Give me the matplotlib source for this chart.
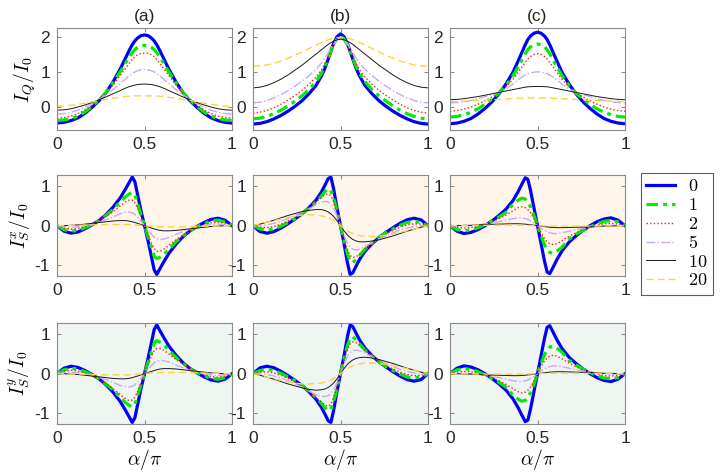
import matplotlib
matplotlib.use("Agg")
import matplotlib.pyplot as plt

plt.rcParams['mathtext.fontset'] = 'cm'
plt.rcParams['font.family'] = ['Liberation Sans', 'DejaVu Sans']

# alpha / pi sample points
alpha = [0, 0.04, 0.08, 0.12, 0.16, 0.2, 0.24, 0.28, 0.32, 0.36, 0.39, 0.41, 0.43, 0.445, 0.46, 0.48, 0.5,
         0.52, 0.54, 0.555, 0.57, 0.59, 0.61, 0.64, 0.68, 0.72, 0.76, 0.8, 0.84, 0.88, 0.92, 0.96, 1]

labels = ['0', '1', '2', '5', '10', '20']
titles = ['(a)', '(b)', '(c)']

# I_Q / I_0, columns a, b, c ; rows = curves 0, 1, 2, 5, 10, 20
iq_a = [
    [-0.46, -0.44, -0.39, -0.31, -0.18, -0.01, 0.18, 0.41, 0.72, 1.08, 1.39, 1.6, 1.79, 1.9, 1.98, 2.05, 2.07, 2.05, 1.98, 1.9, 1.79, 1.6, 1.39, 1.08, 0.72, 0.41, 0.18, -0.01, -0.18, -0.31, -0.39, -0.44, -0.46],
    [-0.39, -0.37, -0.33, -0.26, -0.14, 0.02, 0.2, 0.42, 0.7, 1.0, 1.25, 1.42, 1.56, 1.65, 1.71, 1.76, 1.77, 1.76, 1.71, 1.65, 1.56, 1.42, 1.25, 1.0, 0.7, 0.42, 0.2, 0.02, -0.14, -0.26, -0.33, -0.37, -0.39],
    [-0.32, -0.3, -0.26, -0.19, -0.08, 0.05, 0.21, 0.4, 0.63, 0.9, 1.1, 1.24, 1.37, 1.45, 1.5, 1.54, 1.55, 1.54, 1.5, 1.45, 1.37, 1.24, 1.1, 0.9, 0.63, 0.4, 0.21, 0.05, -0.08, -0.19, -0.26, -0.3, -0.32],
    [-0.2, -0.19, -0.15, -0.09, 0.0, 0.1, 0.22, 0.35, 0.5, 0.67, 0.8, 0.89, 0.96, 1.01, 1.04, 1.07, 1.08, 1.07, 1.04, 1.01, 0.96, 0.89, 0.8, 0.67, 0.5, 0.35, 0.22, 0.1, 0.0, -0.09, -0.15, -0.19, -0.2],
    [-0.09, -0.08, -0.05, 0.0, 0.06, 0.13, 0.21, 0.29, 0.38, 0.47, 0.54, 0.58, 0.61, 0.63, 0.645, 0.655, 0.66, 0.655, 0.645, 0.63, 0.61, 0.58, 0.54, 0.47, 0.38, 0.29, 0.21, 0.13, 0.06, 0.0, -0.05, -0.08, -0.09],
    [0.02, 0.03, 0.05, 0.08, 0.11, 0.15, 0.19, 0.22, 0.25, 0.28, 0.3, 0.31, 0.315, 0.32, 0.32, 0.32, 0.32, 0.32, 0.32, 0.32, 0.315, 0.31, 0.3, 0.28, 0.25, 0.22, 0.19, 0.15, 0.11, 0.08, 0.05, 0.03, 0.02],
]
iq_b = [
    [-0.49, -0.47, -0.42, -0.34, -0.24, -0.12, 0.02, 0.18, 0.38, 0.62, 0.88, 1.1, 1.38, 1.6, 1.82, 2.02, 2.1, 2.02, 1.82, 1.6, 1.38, 1.1, 0.88, 0.62, 0.38, 0.18, 0.02, -0.12, -0.24, -0.34, -0.42, -0.47, -0.49],
    [-0.34, -0.32, -0.27, -0.19, -0.09, 0.03, 0.17, 0.32, 0.5, 0.73, 0.96, 1.16, 1.4, 1.6, 1.79, 1.96, 2.02, 1.96, 1.79, 1.6, 1.4, 1.16, 0.96, 0.73, 0.5, 0.32, 0.17, 0.03, -0.09, -0.19, -0.27, -0.32, -0.34],
    [-0.17, -0.15, -0.1, -0.02, 0.08, 0.2, 0.33, 0.48, 0.65, 0.86, 1.06, 1.24, 1.45, 1.62, 1.78, 1.92, 1.98, 1.92, 1.78, 1.62, 1.45, 1.24, 1.06, 0.86, 0.65, 0.48, 0.33, 0.2, 0.08, -0.02, -0.1, -0.15, -0.17],
    [0.12, 0.14, 0.19, 0.26, 0.36, 0.47, 0.6, 0.74, 0.9, 1.08, 1.26, 1.4, 1.56, 1.69, 1.8, 1.92, 1.97, 1.92, 1.8, 1.69, 1.56, 1.4, 1.26, 1.08, 0.9, 0.74, 0.6, 0.47, 0.36, 0.26, 0.19, 0.14, 0.12],
    [0.55, 0.57, 0.62, 0.7, 0.8, 0.92, 1.06, 1.2, 1.36, 1.52, 1.64, 1.72, 1.8, 1.85, 1.89, 1.93, 1.95, 1.93, 1.89, 1.85, 1.8, 1.72, 1.64, 1.52, 1.36, 1.2, 1.06, 0.92, 0.8, 0.7, 0.62, 0.57, 0.55],
    [1.17, 1.18, 1.21, 1.26, 1.32, 1.4, 1.49, 1.58, 1.68, 1.78, 1.85, 1.89, 1.93, 1.96, 1.98, 1.99, 2.0, 1.99, 1.98, 1.96, 1.93, 1.89, 1.85, 1.78, 1.68, 1.58, 1.49, 1.4, 1.32, 1.26, 1.21, 1.18, 1.17],
]
iq_c = [
    [-0.48, -0.46, -0.41, -0.33, -0.2, -0.04, 0.15, 0.38, 0.66, 1.0, 1.33, 1.56, 1.79, 1.94, 2.04, 2.12, 2.15, 2.12, 2.04, 1.94, 1.79, 1.56, 1.33, 1.0, 0.66, 0.38, 0.15, -0.04, -0.2, -0.33, -0.41, -0.46, -0.48],
    [-0.29, -0.27, -0.22, -0.15, -0.05, 0.08, 0.23, 0.4, 0.62, 0.9, 1.16, 1.35, 1.53, 1.65, 1.73, 1.79, 1.81, 1.79, 1.73, 1.65, 1.53, 1.35, 1.16, 0.9, 0.62, 0.4, 0.23, 0.08, -0.05, -0.15, -0.22, -0.27, -0.29],
    [-0.12, -0.1, -0.06, 0.0, 0.08, 0.18, 0.29, 0.41, 0.58, 0.8, 1.0, 1.14, 1.28, 1.38, 1.45, 1.51, 1.53, 1.51, 1.45, 1.38, 1.28, 1.14, 1.0, 0.8, 0.58, 0.41, 0.29, 0.18, 0.08, 0.0, -0.06, -0.1, -0.12],
    [0.12, 0.13, 0.15, 0.19, 0.24, 0.3, 0.36, 0.42, 0.52, 0.66, 0.78, 0.86, 0.92, 0.96, 0.98, 1.0, 1.01, 1.0, 0.98, 0.96, 0.92, 0.86, 0.78, 0.66, 0.52, 0.42, 0.36, 0.3, 0.24, 0.19, 0.15, 0.13, 0.12],
    [0.21, 0.22, 0.24, 0.27, 0.3, 0.34, 0.38, 0.42, 0.46, 0.5, 0.53, 0.55, 0.57, 0.58, 0.585, 0.59, 0.59, 0.59, 0.585, 0.58, 0.57, 0.55, 0.53, 0.5, 0.46, 0.42, 0.38, 0.34, 0.3, 0.27, 0.24, 0.22, 0.21],
    [0.16, 0.16, 0.17, 0.18, 0.19, 0.2, 0.21, 0.22, 0.23, 0.24, 0.25, 0.25, 0.255, 0.26, 0.26, 0.26, 0.26, 0.26, 0.26, 0.26, 0.255, 0.25, 0.25, 0.24, 0.23, 0.22, 0.21, 0.2, 0.19, 0.18, 0.17, 0.16, 0.16],
]

# I_S^x / I_0
isx_a = [
    [0, -0.14, -0.19, -0.16, -0.08, 0.02, 0.13, 0.28, 0.47, 0.7, 0.92, 1.08, 1.24, 1.12, 0.8, 0.38, 0, -0.38, -0.8, -1.12, -1.24, -1.08, -0.92, -0.7, -0.47, -0.28, -0.13, -0.02, 0.08, 0.16, 0.19, 0.14, 0],
    [0, -0.1, -0.14, -0.12, -0.05, 0.03, 0.13, 0.26, 0.41, 0.6, 0.73, 0.8, 0.84, 0.78, 0.56, 0.28, 0, -0.28, -0.56, -0.78, -0.84, -0.8, -0.73, -0.6, -0.41, -0.26, -0.13, -0.03, 0.05, 0.12, 0.14, 0.1, 0],
    [0, -0.06, -0.09, -0.07, -0.02, 0.05, 0.14, 0.24, 0.36, 0.5, 0.6, 0.65, 0.65, 0.58, 0.45, 0.24, 0, -0.24, -0.45, -0.58, -0.65, -0.65, -0.6, -0.5, -0.36, -0.24, -0.14, -0.05, 0.02, 0.07, 0.09, 0.06, 0],
    [0, -0.03, -0.04, -0.03, 0.0, 0.04, 0.09, 0.15, 0.22, 0.3, 0.34, 0.35, 0.33, 0.29, 0.22, 0.12, 0, -0.12, -0.22, -0.29, -0.33, -0.35, -0.34, -0.3, -0.22, -0.15, -0.09, -0.04, 0.0, 0.03, 0.04, 0.03, 0],
    [0, 0.0, 0.01, 0.02, 0.04, 0.06, 0.08, 0.1, 0.12, 0.13, 0.13, 0.12, 0.1, 0.08, 0.06, 0.03, 0, -0.03, -0.06, -0.08, -0.1, -0.12, -0.13, -0.13, -0.12, -0.1, -0.08, -0.06, -0.04, -0.02, -0.01, 0.0, 0],
    [0, 0.0, 0.01, 0.01, 0.015, 0.02, 0.025, 0.03, 0.03, 0.03, 0.03, 0.03, 0.025, 0.02, 0.015, 0.01, 0, -0.01, -0.015, -0.02, -0.025, -0.03, -0.03, -0.03, -0.03, -0.03, -0.025, -0.02, -0.015, -0.01, -0.01, 0.0, 0],
]
isx_b = [
    [0, -0.15, -0.19, -0.15, -0.06, 0.05, 0.17, 0.3, 0.46, 0.65, 0.85, 1.02, 1.2, 1.24, 0.95, 0.45, 0, -0.45, -0.95, -1.24, -1.2, -1.02, -0.85, -0.65, -0.46, -0.3, -0.17, -0.05, 0.06, 0.15, 0.19, 0.15, 0],
    [0, -0.08, -0.11, -0.08, -0.01, 0.08, 0.18, 0.3, 0.44, 0.6, 0.75, 0.86, 0.94, 0.9, 0.72, 0.38, 0, -0.38, -0.72, -0.9, -0.94, -0.86, -0.75, -0.6, -0.44, -0.3, -0.18, -0.08, 0.01, 0.08, 0.11, 0.08, 0],
    [0, -0.04, -0.05, -0.02, 0.04, 0.12, 0.21, 0.32, 0.45, 0.6, 0.72, 0.79, 0.81, 0.76, 0.62, 0.34, 0, -0.34, -0.62, -0.76, -0.81, -0.79, -0.72, -0.6, -0.45, -0.32, -0.21, -0.12, -0.04, 0.02, 0.05, 0.04, 0],
    [0, 0.0, 0.02, 0.06, 0.11, 0.18, 0.26, 0.34, 0.43, 0.53, 0.6, 0.62, 0.6, 0.54, 0.44, 0.25, 0, -0.25, -0.44, -0.54, -0.6, -0.62, -0.6, -0.53, -0.43, -0.34, -0.26, -0.18, -0.11, -0.06, -0.02, 0.0, 0],
    [0, 0.04, 0.09, 0.14, 0.2, 0.26, 0.31, 0.36, 0.39, 0.41, 0.41, 0.39, 0.35, 0.3, 0.24, 0.13, 0, -0.13, -0.24, -0.3, -0.35, -0.39, -0.41, -0.41, -0.39, -0.36, -0.31, -0.26, -0.2, -0.14, -0.09, -0.04, 0],
    [0, 0.05, 0.09, 0.13, 0.17, 0.21, 0.24, 0.27, 0.28, 0.27, 0.25, 0.23, 0.2, 0.17, 0.13, 0.07, 0, -0.07, -0.13, -0.17, -0.2, -0.23, -0.25, -0.27, -0.28, -0.27, -0.24, -0.21, -0.17, -0.13, -0.09, -0.05, 0],
]
isx_c = [
    [0, -0.14, -0.2, -0.17, -0.1, 0.0, 0.12, 0.26, 0.42, 0.64, 0.87, 1.05, 1.22, 1.18, 0.9, 0.45, 0, -0.45, -0.9, -1.18, -1.22, -1.05, -0.87, -0.64, -0.42, -0.26, -0.12, 0.0, 0.1, 0.17, 0.2, 0.14, 0],
    [0, -0.1, -0.13, -0.11, -0.05, 0.03, 0.12, 0.22, 0.34, 0.55, 0.65, 0.7, 0.68, 0.6, 0.48, 0.26, 0, -0.26, -0.48, -0.6, -0.68, -0.7, -0.65, -0.55, -0.34, -0.22, -0.12, -0.03, 0.05, 0.11, 0.13, 0.1, 0],
    [0, -0.04, -0.06, -0.05, -0.01, 0.04, 0.1, 0.18, 0.27, 0.38, 0.46, 0.48, 0.46, 0.41, 0.33, 0.18, 0, -0.18, -0.33, -0.41, -0.46, -0.48, -0.46, -0.38, -0.27, -0.18, -0.1, -0.04, 0.01, 0.05, 0.06, 0.04, 0],
    [0, -0.01, -0.01, 0.0, 0.02, 0.04, 0.07, 0.1, 0.14, 0.18, 0.2, 0.2, 0.18, 0.16, 0.12, 0.07, 0, -0.07, -0.12, -0.16, -0.18, -0.2, -0.2, -0.18, -0.14, -0.1, -0.07, -0.04, -0.02, 0.0, 0.01, 0.01, 0],
    [0, 0.0, 0.01, 0.01, 0.02, 0.03, 0.035, 0.04, 0.045, 0.05, 0.05, 0.045, 0.04, 0.03, 0.025, 0.012, 0, -0.012, -0.025, -0.03, -0.04, -0.045, -0.05, -0.05, -0.045, -0.04, -0.035, -0.03, -0.02, -0.01, -0.01, 0.0, 0],
    [0, 0.0, 0.005, 0.005, 0.01, 0.01, 0.01, 0.012, 0.012, 0.012, 0.012, 0.01, 0.01, 0.008, 0.006, 0.003, 0, -0.003, -0.006, -0.008, -0.01, -0.01, -0.012, -0.012, -0.012, -0.012, -0.01, -0.01, -0.01, -0.005, -0.005, 0.0, 0],
]

# I_S^y / I_0
isy_a = [
    [0, 0.14, 0.19, 0.16, 0.08, -0.02, -0.13, -0.28, -0.47, -0.7, -0.92, -1.08, -1.24, -1.12, -0.8, -0.38, 0, 0.38, 0.8, 1.12, 1.24, 1.08, 0.92, 0.7, 0.47, 0.28, 0.13, 0.02, -0.08, -0.16, -0.19, -0.14, 0],
    [0, 0.1, 0.14, 0.12, 0.05, -0.03, -0.13, -0.26, -0.41, -0.6, -0.73, -0.8, -0.84, -0.78, -0.56, -0.28, 0, 0.28, 0.56, 0.78, 0.84, 0.8, 0.73, 0.6, 0.41, 0.26, 0.13, 0.03, -0.05, -0.12, -0.14, -0.1, 0],
    [0, 0.06, 0.09, 0.07, 0.02, -0.05, -0.14, -0.25, -0.38, -0.53, -0.63, -0.68, -0.67, -0.6, -0.46, -0.25, 0, 0.24, 0.45, 0.58, 0.64, 0.64, 0.6, 0.5, 0.36, 0.24, 0.14, 0.05, -0.02, -0.07, -0.09, -0.06, 0],
    [0, 0.03, 0.04, 0.03, 0.0, -0.04, -0.09, -0.15, -0.22, -0.3, -0.33, -0.34, -0.32, -0.28, -0.21, -0.12, 0, 0.12, 0.21, 0.28, 0.32, 0.34, 0.33, 0.3, 0.22, 0.15, 0.09, 0.04, 0.0, -0.03, -0.04, -0.03, 0],
    [0, 0.0, -0.01, -0.02, -0.04, -0.06, -0.08, -0.1, -0.12, -0.13, -0.13, -0.12, -0.1, -0.08, -0.06, -0.03, 0, 0.03, 0.06, 0.08, 0.1, 0.12, 0.13, 0.13, 0.12, 0.1, 0.08, 0.06, 0.04, 0.02, 0.01, 0.0, 0],
    [0, 0.0, -0.01, -0.01, -0.015, -0.02, -0.025, -0.03, -0.03, -0.03, -0.03, -0.03, -0.025, -0.02, -0.015, -0.01, 0, 0.01, 0.015, 0.02, 0.025, 0.03, 0.03, 0.03, 0.03, 0.03, 0.025, 0.02, 0.015, 0.01, 0.01, 0.0, 0],
]
isy_b = [
    [0, 0.15, 0.19, 0.15, 0.06, -0.05, -0.17, -0.3, -0.46, -0.65, -0.85, -1.02, -1.2, -1.24, -0.95, -0.45, 0, 0.45, 0.95, 1.24, 1.2, 1.02, 0.85, 0.65, 0.46, 0.3, 0.17, 0.05, -0.06, -0.15, -0.19, -0.15, 0],
    [0, 0.08, 0.11, 0.08, 0.01, -0.08, -0.18, -0.3, -0.44, -0.6, -0.75, -0.86, -0.94, -0.9, -0.72, -0.38, 0, 0.38, 0.72, 0.9, 0.94, 0.86, 0.75, 0.6, 0.44, 0.3, 0.18, 0.08, -0.01, -0.08, -0.11, -0.08, 0],
    [0, 0.04, 0.05, 0.02, -0.04, -0.12, -0.21, -0.32, -0.45, -0.6, -0.72, -0.8, -0.83, -0.77, -0.62, -0.34, 0, 0.34, 0.62, 0.76, 0.81, 0.79, 0.72, 0.6, 0.45, 0.32, 0.21, 0.12, 0.04, -0.02, -0.05, -0.04, 0],
    [0, 0.0, -0.02, -0.06, -0.11, -0.18, -0.26, -0.34, -0.44, -0.54, -0.58, -0.58, -0.56, -0.51, -0.42, -0.24, 0, 0.25, 0.44, 0.54, 0.59, 0.6, 0.58, 0.52, 0.43, 0.34, 0.26, 0.18, 0.11, 0.06, 0.02, 0.0, 0],
    [0, -0.04, -0.09, -0.14, -0.2, -0.26, -0.31, -0.36, -0.4, -0.42, -0.41, -0.39, -0.35, -0.3, -0.24, -0.13, 0, 0.13, 0.24, 0.3, 0.35, 0.39, 0.41, 0.42, 0.4, 0.36, 0.31, 0.26, 0.2, 0.14, 0.09, 0.04, 0],
    [0, -0.05, -0.09, -0.13, -0.17, -0.21, -0.24, -0.26, -0.26, -0.25, -0.24, -0.22, -0.19, -0.16, -0.12, -0.07, 0, 0.07, 0.13, 0.17, 0.2, 0.23, 0.25, 0.27, 0.27, 0.26, 0.24, 0.21, 0.17, 0.13, 0.09, 0.05, 0],
]
isy_c = [
    [0, 0.14, 0.2, 0.17, 0.1, 0.0, -0.12, -0.26, -0.42, -0.64, -0.87, -1.05, -1.22, -1.18, -0.9, -0.45, 0, 0.45, 0.9, 1.18, 1.22, 1.05, 0.87, 0.64, 0.42, 0.26, 0.12, 0.0, -0.1, -0.17, -0.2, -0.14, 0],
    [0, 0.1, 0.13, 0.11, 0.05, -0.03, -0.12, -0.22, -0.34, -0.55, -0.65, -0.7, -0.68, -0.6, -0.48, -0.26, 0, 0.26, 0.48, 0.6, 0.68, 0.7, 0.65, 0.55, 0.34, 0.22, 0.12, 0.03, -0.05, -0.11, -0.13, -0.1, 0],
    [0, 0.04, 0.06, 0.05, 0.01, -0.04, -0.1, -0.18, -0.27, -0.38, -0.46, -0.49, -0.47, -0.42, -0.34, -0.19, 0, 0.18, 0.32, 0.4, 0.45, 0.47, 0.45, 0.38, 0.27, 0.18, 0.1, 0.04, -0.01, -0.05, -0.06, -0.04, 0],
    [0, 0.01, 0.01, 0.0, -0.02, -0.04, -0.07, -0.1, -0.14, -0.18, -0.2, -0.2, -0.18, -0.16, -0.12, -0.07, 0, 0.07, 0.12, 0.16, 0.18, 0.2, 0.2, 0.18, 0.14, 0.1, 0.07, 0.04, 0.02, 0.0, -0.01, -0.01, 0],
    [0, 0.0, -0.01, -0.01, -0.02, -0.03, -0.035, -0.04, -0.045, -0.05, -0.05, -0.045, -0.04, -0.03, -0.025, -0.012, 0, 0.012, 0.025, 0.03, 0.04, 0.045, 0.05, 0.05, 0.045, 0.04, 0.035, 0.03, 0.02, 0.01, 0.01, 0.0, 0],
    [0, 0.0, -0.005, -0.005, -0.01, -0.01, -0.01, -0.012, -0.012, -0.012, -0.012, -0.01, -0.01, -0.008, -0.006, -0.003, 0, 0.003, 0.006, 0.008, 0.01, 0.01, 0.012, 0.012, 0.012, 0.012, 0.01, 0.01, 0.01, 0.005, 0.005, 0.0, 0],
]

rows = [[iq_a, iq_b, iq_c], [isx_a, isx_b, isx_c], [isy_a, isy_b, isy_c]]
ylabels = [r'$I_Q/I_0$', r'$I_S^x/I_0$', r'$I_S^y/I_0$']
ylims = [(-0.66, 2.27), (-1.28, 1.29), (-1.28, 1.29)]
yticks = [[0, 1, 2], [-1, 0, 1], [-1, 0, 1]]
bgs = ['white', '#fff5ea', '#eff5f1']

# line styles for the six curves
line_kw = [
    dict(color='#0000ff', lw=2.3, ls='-'),
    dict(color='#00ee00', lw=2.3, dashes=(3.6, 1.6, 1.2, 1.6)),
    dict(color='#ff1a1a', lw=1.0, ls=(0, (1, 1.6))),
    dict(color='#caa8f7', lw=1.0, ls='-.'),
    dict(color='#1a1a1a', lw=0.7, ls='-'),
    dict(color='#ffd23f', lw=1.0, ls=(0, (5, 3))),
]

W, H = 722, 472
fig = plt.figure(figsize=(W / 100, H / 100), dpi=100)

col_x = [57, 253, 450]
col_w = 175
row_y = [(28, 130), (175, 276), (323, 424)]

handles = []
for r in range(3):
    for c in range(3):
        y0, y1 = row_y[r]
        ax = fig.add_axes([col_x[c] / W, 1 - y1 / H, col_w / W, (y1 - y0) / H])
        ax.set_facecolor(bgs[r])
        curves = rows[r][c]
        for k in range(6):
            ln, = ax.plot(alpha, curves[k], label=labels[k], **line_kw[k])
            if r == 0 and c == 0:
                handles.append(ln)
        ax.set_xlim(0, 1)
        ax.set_ylim(*ylims[r])
        ax.set_xticks([0, 0.5, 1])
        ax.set_xticklabels(['0', '0.5', '1'])
        ax.set_yticks(yticks[r])
        ax.set_yticklabels([str(v) for v in yticks[r]])
        ax.tick_params(direction='in', top=True, right=True, length=3, width=0.6,
                       color='#707070', labelsize=12.5, labelcolor='#262626', pad=5)
        for s in ax.spines.values():
            s.set_color('#8a8a8a')
            s.set_linewidth(0.8)
        if r == 0:
            ax.set_title(titles[c], fontsize=12.5, color='#262626', pad=5)
        if c == 0:
            ax.set_ylabel(ylabels[r], fontsize=14, labelpad=2)
        if r == 2:
            ax.set_xlabel(r'$\alpha/\pi$', fontsize=14, labelpad=1)

leg = fig.legend(handles, ['$' + s + '$' for s in labels], loc='upper left',
                 bbox_to_anchor=(641 / W, 1 - 173 / H), fontsize=13, frameon=True,
                 fancybox=False, edgecolor='#333333', handlelength=1.6,
                 handletextpad=0.7, labelspacing=0.1, borderpad=0.3, borderaxespad=0)
leg.get_frame().set_linewidth(0.8)

fig.savefig('out.png', dpi=100)
